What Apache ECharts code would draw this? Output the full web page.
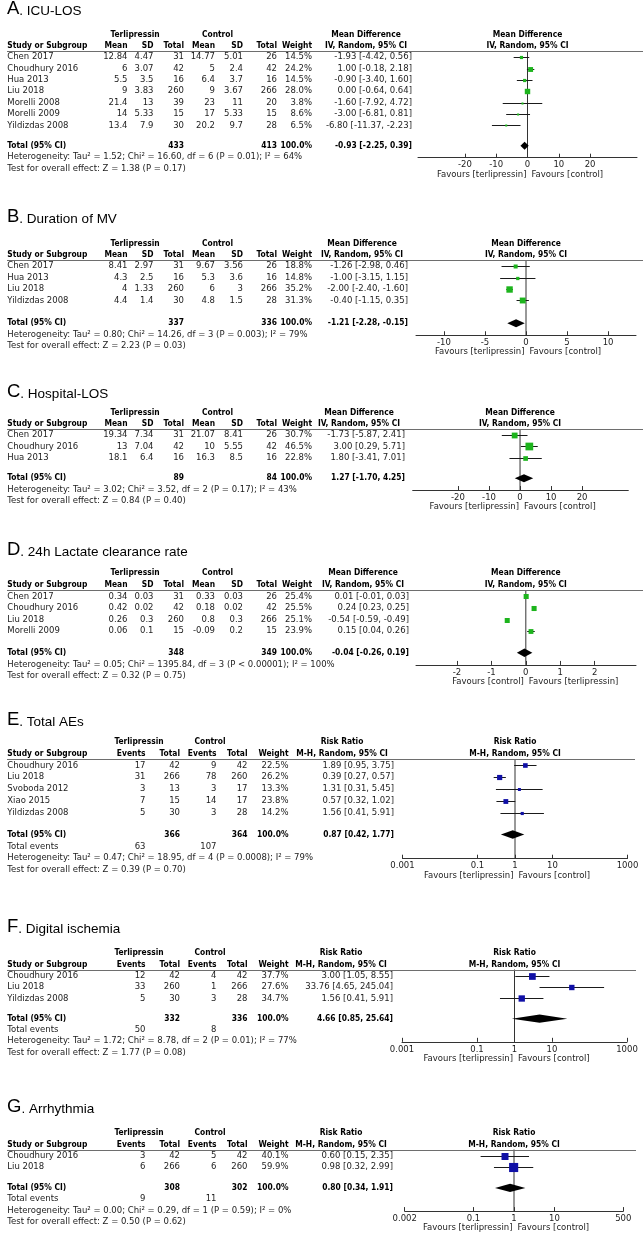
<!DOCTYPE html>
<html><head><meta charset="utf-8">
<script src="https://cdn.jsdelivr.net/npm/echarts@6/dist/echarts.min.js"></script>
<style>html,body{margin:0;padding:0;background:#fff}#main{width:644px;height:1237px}</style>
</head><body><div id="main"></div>
<script>
// ================= DATA =================
// A. ICU-LOS (Mean Difference)
const A_studies = ['Chen 2017','Choudhury 2016','Hua 2013','Liu 2018','Morelli 2008','Morelli 2009','Yildizdas 2008'];
const A_tMean = [12.84, 6, 5.5, 9, 21.4, 14, 13.4];
const A_tSD = [4.47, 3.07, 3.5, 3.83, 13, 5.33, 7.9];
const A_tN = [31, 42, 16, 260, 39, 15, 30];
const A_cMean = [14.77, 5, 6.4, 9, 23, 17, 20.2];
const A_cSD = [5.01, 2.4, 3.7, 3.67, 11, 5.33, 9.7];
const A_cN = [26, 42, 16, 266, 20, 15, 28];
const A_weight = [14.5, 24.2, 14.5, 28.0, 3.8, 8.6, 6.5];
const A_est = [-1.93, 1.00, -0.90, 0.00, -1.60, -3.00, -6.80];
const A_lo = [-4.42, -0.18, -3.40, -0.64, -7.92, -6.81, -11.37];
const A_hi = [0.56, 2.18, 1.60, 0.64, 4.72, 0.81, -2.23];
const A_total = [433, 413];
const A_pooled = [-0.93, -2.25, 0.39];
const A_het = 'Heterogeneity: Tau² = 1.52; Chi² = 16.60, df = 6 (P = 0.01); I² = 64%';
const A_test = 'Test for overall effect: Z = 1.38 (P = 0.17)';
const A_ticks = [-20, -10, 0, 10, 20];

// B. Duration of MV
const B_studies = ['Chen 2017','Hua 2013','Liu 2018','Yildizdas 2008'];
const B_tMean = [8.41, 4.3, 4, 4.4];
const B_tSD = [2.97, 2.5, 1.33, 1.4];
const B_tN = [31, 16, 260, 30];
const B_cMean = [9.67, 5.3, 6, 4.8];
const B_cSD = [3.56, 3.6, 3, 1.5];
const B_cN = [26, 16, 266, 28];
const B_weight = [18.8, 14.8, 35.2, 31.3];
const B_est = [-1.26, -1.00, -2.00, -0.40];
const B_lo = [-2.98, -3.15, -2.40, -1.15];
const B_hi = [0.46, 1.15, -1.60, 0.35];
const B_total = [337, 336];
const B_pooled = [-1.21, -2.28, -0.15];
const B_het = 'Heterogeneity: Tau² = 0.80; Chi² = 14.26, df = 3 (P = 0.003); I² = 79%';
const B_test = 'Test for overall effect: Z = 2.23 (P = 0.03)';
const B_ticks = [-10, -5, 0, 5, 10];

// C. Hospital-LOS
const C_studies = ['Chen 2017','Choudhury 2016','Hua 2013'];
const C_tMean = [19.34, 13, 18.1];
const C_tSD = [7.34, 7.04, 6.4];
const C_tN = [31, 42, 16];
const C_cMean = [21.07, 10, 16.3];
const C_cSD = [8.41, 5.55, 8.5];
const C_cN = [26, 42, 16];
const C_weight = [30.7, 46.5, 22.8];
const C_est = [-1.73, 3.00, 1.80];
const C_lo = [-5.87, 0.29, -3.41];
const C_hi = [2.41, 5.71, 7.01];
const C_total = [89, 84];
const C_pooled = [1.27, -1.70, 4.25];
const C_het = 'Heterogeneity: Tau² = 3.02; Chi² = 3.52, df = 2 (P = 0.17); I² = 43%';
const C_test = 'Test for overall effect: Z = 0.84 (P = 0.40)';
const C_ticks = [-20, -10, 0, 10, 20];

// D. 24h Lactate clearance rate
const D_studies = ['Chen 2017','Choudhury 2016','Liu 2018','Morelli 2009'];
const D_tMean = [0.34, 0.42, 0.26, 0.06];
const D_tSD = [0.03, 0.02, 0.3, 0.1];
const D_tN = [31, 42, 260, 15];
const D_cMean = [0.33, 0.18, 0.8, -0.09];
const D_cSD = [0.03, 0.02, 0.3, 0.2];
const D_cN = [26, 42, 266, 15];
const D_weight = [25.4, 25.5, 25.1, 23.9];
const D_est = [0.01, 0.24, -0.54, 0.15];
const D_lo = [-0.01, 0.23, -0.59, 0.04];
const D_hi = [0.03, 0.25, -0.49, 0.26];
const D_total = [348, 349];
const D_pooled = [-0.04, -0.26, 0.19];
const D_het = 'Heterogeneity: Tau² = 0.05; Chi² = 1395.84, df = 3 (P < 0.00001); I² = 100%';
const D_test = 'Test for overall effect: Z = 0.32 (P = 0.75)';
const D_ticks = [-2, -1, 0, 1, 2];

// E. Total AEs (Risk Ratio)
const E_studies = ['Choudhury 2016','Liu 2018','Svoboda 2012','Xiao 2015','Yildizdas 2008'];
const E_tEv = [17, 31, 3, 7, 5];
const E_tN = [42, 266, 13, 15, 30];
const E_cEv = [9, 78, 3, 14, 3];
const E_cN = [42, 260, 17, 17, 28];
const E_weight = [22.5, 26.2, 13.3, 23.8, 14.2];
const E_est = [1.89, 0.39, 1.31, 0.57, 1.56];
const E_lo = [0.95, 0.27, 0.31, 0.32, 0.41];
const E_hi = [3.75, 0.57, 5.45, 1.02, 5.91];
const E_total = [366, 364];
const E_events = [63, 107];
const E_pooled = [0.87, 0.42, 1.77];
const E_het = 'Heterogeneity: Tau² = 0.47; Chi² = 18.95, df = 4 (P = 0.0008); I² = 79%';
const E_test = 'Test for overall effect: Z = 0.39 (P = 0.70)';
const E_ticks = [0.001, 0.1, 1, 10, 1000];

// F. Digital ischemia
const F_studies = ['Choudhury 2016','Liu 2018','Yildizdas 2008'];
const F_tEv = [12, 33, 5];
const F_tN = [42, 260, 30];
const F_cEv = [4, 1, 3];
const F_cN = [42, 266, 28];
const F_weight = [37.7, 27.6, 34.7];
const F_est = [3.00, 33.76, 1.56];
const F_lo = [1.05, 4.65, 0.41];
const F_hi = [8.55, 245.04, 5.91];
const F_total = [332, 336];
const F_events = [50, 8];
const F_pooled = [4.66, 0.85, 25.64];
const F_het = 'Heterogeneity: Tau² = 1.72; Chi² = 8.78, df = 2 (P = 0.01); I² = 77%';
const F_test = 'Test for overall effect: Z = 1.77 (P = 0.08)';
const F_ticks = [0.001, 0.1, 1, 10, 1000];

// G. Arrhythmia
const G_studies = ['Choudhury 2016','Liu 2018'];
const G_tEv = [3, 6];
const G_tN = [42, 266];
const G_cEv = [5, 6];
const G_cN = [42, 260];
const G_weight = [40.1, 59.9];
const G_est = [0.60, 0.98];
const G_lo = [0.15, 0.32];
const G_hi = [2.35, 2.99];
const G_total = [308, 302];
const G_events = [9, 11];
const G_pooled = [0.80, 0.34, 1.91];
const G_het = 'Heterogeneity: Tau² = 0.00; Chi² = 0.29, df = 1 (P = 0.59); I² = 0%';
const G_test = 'Test for overall effect: Z = 0.50 (P = 0.62)';
const G_ticks = [0.002, 0.1, 1, 10, 500];

// ================= LAYOUT / STYLE =================
const FONT = "'DejaVu Sans', 'Noto Sans', sans-serif";
const FONTB = "'DejaVu Sans Condensed', 'DejaVu Sans', sans-serif";
const TFONT = "'Liberation Sans', Arial, sans-serif";
const FS = 8.5, FSB = 8.4;
const TXT = '#1c1c1c';
const GREEN = '#1db41d', BLUE = '#1010a6';

const MD_COLS = [127.5, 153.5, 184, 215, 243, 277], MD_W = 312, MD_GRP = [135, 217.5];
const RR_COLS = [145.5, 180, 216.5, 247.5], RR_W = 288.5, RR_GRP = [139, 210];

const panels = [
  {type:'MD', title:['A', '. ICU-LOS'], studies:A_studies, cols:[A_tMean,A_tSD,A_tN,A_cMean,A_cSD,A_cN], weight:A_weight, est:A_est, lo:A_lo, hi:A_hi, total:A_total, pooled:A_pooled, het:A_het, test:A_test, ticks:A_ticks, fav:['Favours [terlipressin]','Favours [control]'],
   L:{titleY:9, ruleY:51, rowH:11.35, totGap:0.8, gridL:418, gridR:637, xMin:-35, xMax:35, ciR:412, hdrC:366, favOff:1.5, ruleR:643}},
  {type:'MD', title:['B', '. Duration of MV'], studies:B_studies, cols:[B_tMean,B_tSD,B_tN,B_cMean,B_cSD,B_cN], weight:B_weight, est:B_est, lo:B_lo, hi:B_hi, total:B_total, pooled:B_pooled, het:B_het, test:B_test, ticks:B_ticks, fav:['Favours [terlipressin]','Favours [control]'],
   L:{titleY:217, ruleY:260, rowH:11.4, totGap:1.0, gridL:416, gridR:636, xMin:-13.4, xMax:13.4, ciR:408, hdrC:362, favOff:1, ruleR:643}},
  {type:'MD', title:['C', '. Hospital-LOS'], studies:C_studies, cols:[C_tMean,C_tSD,C_tN,C_cMean,C_cSD,C_cN], weight:C_weight, est:C_est, lo:C_lo, hi:C_hi, total:C_total, pooled:C_pooled, het:C_het, test:C_test, ticks:C_ticks, fav:['Favours [terlipressin]','Favours [control]'],
   L:{titleY:391.5, ruleY:429, rowH:11.2, totGap:0.85, gridL:412.7, gridR:628.3, xMin:-34.6, xMax:34.9, ciR:405, hdrC:359, favOff:1.5, ruleR:643}},
  {type:'MD', title:['D', '. 24h Lactate clearance rate'], studies:D_studies, cols:[D_tMean,D_tSD,D_tN,D_cMean,D_cSD,D_cN], weight:D_weight, est:D_est, lo:D_lo, hi:D_hi, total:D_total, pooled:D_pooled, het:D_het, test:D_test, ticks:D_ticks, fav:['Favours [control]','Favours [terlipressin]'],
   L:{titleY:550, ruleY:590, rowH:11.6, totGap:0.86, gridL:416, gridR:636, xMin:-3.19, xMax:3.2, ciR:409, hdrC:363, favOff:0.5, ruleR:643}},
  {type:'RR', title:['E', '. Total AEs'], studies:E_studies, cols:[E_tEv,E_tN,E_cEv,E_cN], weight:E_weight, est:E_est, lo:E_lo, hi:E_hi, total:E_total, events:E_events, pooled:E_pooled, het:E_het, test:E_test, ticks:E_ticks, fav:['Favours [terlipressin]','Favours [control]'],
   L:{titleY:720, ruleY:759, rowH:11.8, totGap:0.85, gridL:402.5, gridR:627.5, xMin:0.001, xMax:1000, ciR:394, hdrC:342, favOff:1, ruleR:635}},
  {type:'RR', title:['F', '. Digital ischemia'], studies:F_studies, cols:[F_tEv,F_tN,F_cEv,F_cN], weight:F_weight, est:F_est, lo:F_lo, hi:F_hi, total:F_total, events:F_events, pooled:F_pooled, het:F_het, test:F_test, ticks:F_ticks, fav:['Favours [terlipressin]','Favours [control]'],
   L:{titleY:927, ruleY:969.5, rowH:11.3, totGap:0.8, gridL:402, gridR:627, xMin:0.001, xMax:1000, ciR:393, hdrC:341, favOff:1, ruleR:636}},
  {type:'RR', title:['G', '. Arrhythmia'], studies:G_studies, cols:[G_tEv,G_tN,G_cEv,G_cN], weight:G_weight, est:G_est, lo:G_lo, hi:G_hi, total:G_total, events:G_events, pooled:G_pooled, het:G_het, test:G_test, ticks:G_ticks, fav:['Favours [terlipressin]','Favours [control]'],
   L:{titleY:1107, ruleY:1149.5, rowH:11.3, totGap:0.85, gridL:404.7, gridR:623.3, xMin:0.002, xMax:500, ciR:393, hdrC:341, favOff:1, ruleR:636}}
];

// ================= BUILD =================
const chart = echarts.init(document.getElementById('main'), null, {renderer:'canvas', width:644, height:1237});
const fmtCI = (e,l,h) => `${e.toFixed(2)} [${l.toFixed(2)}, ${h.toFixed(2)}]`;
const fmtTick = v => String(+(+v).toPrecision(6));

const grids = [], xAxes = [], yAxes = [], series = [];
panels.forEach((P, i) => {
  const L = P.L, RR = P.type === 'RR', n = P.studies.length;
  P.totalRow = n + L.totGap;
  P.hetRow = P.totalRow + (RR ? 2 : 1);
  P.yMin = -0.55; P.yMax = P.hetRow + 0.05;
  grids.push({left:L.gridL, top:L.ruleY, width:L.gridR - L.gridL, height:(P.yMax - P.yMin) * L.rowH, containLabel:false, outerBoundsMode:'none'});
  xAxes.push({
    gridIndex:i, type: RR ? 'log' : 'value', logBase:10, min:L.xMin, max:L.xMax,
    axisLine:{show:true, onZero:false, lineStyle:{color:'#333', width:1}},
    axisTick:{show:true, inside:true, length:4, customValues:P.ticks, lineStyle:{color:'#333'}},
    axisLabel:{customValues:P.ticks, formatter:fmtTick, fontFamily:FONT, fontSize:FS, color:TXT, margin:3},
    splitLine:{show:false}, minorTick:{show:false}
  });
  yAxes.push({gridIndex:i, type:'value', inverse:true, min:P.yMin, max:P.yMax, show:false, splitLine:{show:false}});
  const zero = RR ? 1 : 0;
  series.push({type:'line', xAxisIndex:i, yAxisIndex:i, data:[[zero, P.yMin],[zero, P.yMax]], symbol:'none', silent:true, lineStyle:{color:'#333', width:1}, z:1});
  const color = RR ? BLUE : GREEN;
  series.push({
    type:'custom', xAxisIndex:i, yAxisIndex:i, silent:true, z:3,
    data: P.est.map((e,k) => [e, k, P.lo[k], P.hi[k], P.weight[k]]),
    encode:{x:0, y:1},
    renderItem:(params, api) => {
      const row = api.value(1);
      const pE = api.coord([api.value(0), row]);
      const pL = api.coord([api.value(2), row]);
      const pH = api.coord([api.value(3), row]);
      const s = Math.max(2, 1.5 * Math.sqrt(api.value(4)) - 2.5);
      const y = Math.round(pE[1]) + 0.5;
      return {type:'group', children:[
        {type:'line', shape:{x1:pL[0], y1:y, x2:pH[0], y2:y}, style:{stroke:'#1a1a1a', lineWidth:1}},
        {type:'rect', shape:{x:pE[0]-s/2, y:y-s/2, width:s, height:s}, style:{fill:color}}
      ]};
    }
  });
  series.push({
    type:'custom', xAxisIndex:i, yAxisIndex:i, silent:true, z:3,
    data:[[P.pooled[0], P.totalRow, P.pooled[1], P.pooled[2]]],
    encode:{x:0, y:1},
    renderItem:(params, api) => {
      const row = api.value(1), e = api.value(0);
      const pE = api.coord([e, row]);
      const pL = api.coord([api.value(2), row]);
      const pH = api.coord([api.value(3), row]);
      const yT = api.coord([e, row - 0.36])[1], yB = api.coord([e, row + 0.36])[1];
      return {type:'polygon', shape:{points:[[pL[0],pE[1]],[pE[0],yT],[pH[0],pE[1]],[pE[0],yB]]}, style:{fill:'#000'}};
    }
  });
});

chart.setOption({animation:false, backgroundColor:'#fff', grid:grids, xAxis:xAxes, yAxis:yAxes, series:series});

// ---- table text via axis-derived row positions ----
const G = [];
function T(x, y, text, o) {
  o = o || {};
  G.push({type:'text', x:x, y:y, silent:true, z:10, style:{text:String(text), font:o.b ? ('bold ' + FSB + 'px ' + FONTB) : (FS + 'px ' + FONT), fill:o.b ? '#000' : TXT, textAlign:o.a || 'left', textVerticalAlign:'middle'}});
}
panels.forEach((P, i) => {
  const L = P.L, RR = P.type === 'RR';
  const yPx = r => chart.convertToPixel({yAxisIndex:i}, r);
  const zeroX = chart.convertToPixel({xAxisIndex:i}, RR ? 1 : 0);
  const cols = RR ? RR_COLS : MD_COLS, wX = RR ? RR_W : MD_W, grp = RR ? RR_GRP : MD_GRP;
  const hdr = RR ? ['Risk Ratio','M-H, Random, 95% CI'] : ['Mean Difference','IV, Random, 95% CI'];
  const colHdr = RR ? ['Events','Total','Events','Total'] : ['Mean','SD','Total','Mean','SD','Total'];
  // title
  G.push({type:'text', x:7, y:L.titleY, silent:true, style:{text:`{a|${P.title[0]}}{b|${P.title[1]}}`, textVerticalAlign:'middle',
    rich:{a:{fontSize:18.5, fontFamily:TFONT, fill:'#000', verticalAlign:'bottom'}, b:{fontSize:13.5, fontFamily:TFONT, fill:'#000', verticalAlign:'bottom'}}}});
  const y2 = yPx(-2), y1 = yPx(-1);
  T(grp[0], y2, 'Terlipressin', {b:1, a:'center'});
  T(grp[1], y2, 'Control', {b:1, a:'center'});
  T(L.hdrC, y2, hdr[0], {b:1, a:'center'});
  T(zeroX, y2, hdr[0], {b:1, a:'center'});
  T(7.3, y1, 'Study or Subgroup', {b:1});
  colHdr.forEach((h,k) => T(cols[k], y1, h, {b:1, a:'right'}));
  T(wX, y1, 'Weight', {b:1, a:'right'});
  T(L.hdrC, y1, hdr[1], {b:1, a:'center'});
  T(zeroX, y1, hdr[1], {b:1, a:'center'});
  const ry = Math.round(yPx(P.yMin)) + 0.5;
  G.push({type:'line', silent:true, z:5, shape:{x1:7, y1:ry, x2:L.ruleR, y2:ry}, style:{stroke:'#6e6e6e', lineWidth:1.2}});
  P.studies.forEach((s,k) => {
    const y = yPx(k);
    T(7.3, y, s);
    P.cols.forEach((c,j) => T(cols[j], y, c[k], {a:'right'}));
    T(wX, y, P.weight[k].toFixed(1) + '%', {a:'right'});
    T(L.ciR, y, fmtCI(P.est[k], P.lo[k], P.hi[k]), {a:'right'});
  });
  const yt = yPx(P.totalRow);
  T(7.3, yt, 'Total (95% CI)', {b:1});
  T(cols[RR ? 1 : 2], yt, P.total[0], {b:1, a:'right'});
  T(cols[RR ? 3 : 5], yt, P.total[1], {b:1, a:'right'});
  T(wX, yt, '100.0%', {b:1, a:'right'});
  T(L.ciR, yt, fmtCI(P.pooled[0], P.pooled[1], P.pooled[2]), {b:1, a:'right'});
  let r = P.totalRow + 1;
  if (RR) {
    const ye = yPx(r);
    T(7.3, ye, 'Total events');
    T(cols[0], ye, P.events[0], {a:'right'});
    T(cols[2], ye, P.events[1], {a:'right'});
    r += 1;
  }
  T(7.3, yPx(r), P.het);
  T(7.3, yPx(r + 1), P.test);
  const axY = yPx(P.yMax);
  const gx = zeroX + L.favOff;
  T(gx - 2.5, axY + 17, P.fav[0], {a:'right'});
  T(gx + 2.5, axY + 17, P.fav[1], {a:'left'});
});
chart.setOption({graphic:{elements:G}});
</script>
</body></html>
